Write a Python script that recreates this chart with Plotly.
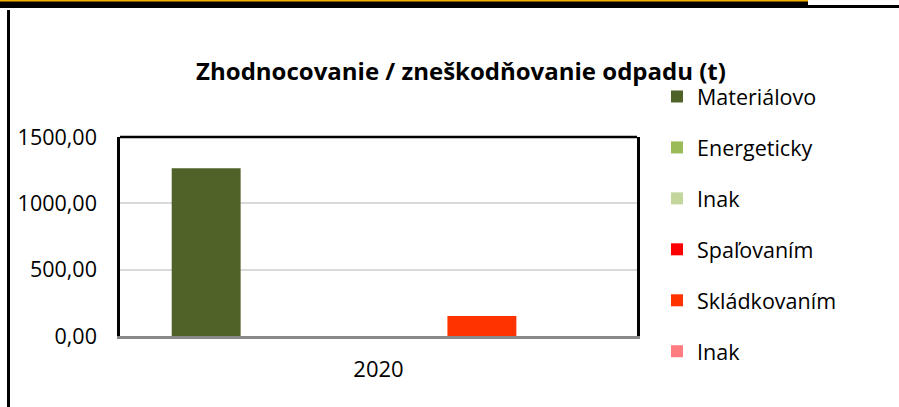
import plotly.graph_objects as go

categories = ["2020"]
series_names = ["Materiálovo", "Energeticky", "Inak", "Spaľovaním", "Skládkovaním", "Inak"]
series_values = [[1265], [0], [0], [0], [150], [0]]
series_colors = ["#4f6228", "#9bbb59", "#c3d69b", "#ff0000", "#ff3300", "#ff7c80"]
y_ticks = [0, 500, 1000, 1500]

W, H = 899, 407
FONT = "Open Sans"

fig = go.Figure()
for i, (name, vals, col) in enumerate(zip(series_names, series_values, series_colors)):
    fig.add_trace(go.Bar(x=categories, y=vals, name=name, marker_color=col,
                         marker_line_width=0, legendgroup=f"g{i}"))

def px_x(x):
    return x / W

def px_y(y):
    return 1 - y / H

shapes = [
    dict(type="line", xref="x domain", yref="y domain", x0=0, x1=1, y0=1, y1=1,
         line=dict(color="black", width=2.5)),
    dict(type="rect", xref="paper", yref="paper", x0=0, x1=px_x(808), y0=px_y(1), y1=px_y(8),
         fillcolor="black", line_width=0),
    dict(type="rect", xref="paper", yref="paper", x0=0, x1=px_x(808), y0=px_y(0), y1=px_y(1.5),
         fillcolor="#f4b000", line_width=0),
    dict(type="rect", xref="paper", yref="paper", x0=px_x(808), x1=1, y0=px_y(5), y1=px_y(8),
         fillcolor="black", line_width=0),
    dict(type="rect", xref="paper", yref="paper", x0=px_x(7), x1=px_x(10), y0=px_y(10), y1=0,
         fillcolor="black", line_width=0),
]

fig.update_layout(
    width=W, height=H,
    margin=dict(l=0, r=0, t=0, b=0, autoexpand=False),
    paper_bgcolor="white", plot_bgcolor="white",
    separators=", ",
    font=dict(family=FONT, size=21, color="black"),
    barmode="group", bargap=0.2, bargroupgap=0,
    title=dict(text="<b>Zhodnocovanie / zneškodňovanie odpadu (t)</b>",
               x=461 / W, xanchor="center", y=px_y(72), yanchor="middle",
               font=dict(family=FONT, size=24, color="black")),
    xaxis=dict(domain=[px_x(120), px_x(637)], showline=True, linecolor="#898989", linewidth=3,
               ticks="", showgrid=False, tickfont=dict(size=22), automargin=False,
               ticklabelstandoff=12),
    yaxis=dict(domain=[px_y(336), px_y(137)], range=[0, 1500], tickvals=y_ticks,
               tickformat=".2f", showline=True, linecolor="black", linewidth=2.5, mirror=True,
               showgrid=True, gridcolor="#d9d9d9", gridwidth=2, zeroline=False,
               ticks="", ticklabelstandoff=16, tickfont=dict(size=21.5), automargin=False),
    legend=dict(x=px_x(657), xanchor="left", y=px_y(76), yanchor="top",
                font=dict(size=21.5), tracegroupgap=20, itemwidth=30,
                bgcolor="rgba(0,0,0,0)"),
    shapes=shapes,
)

fig.write_html("out.html", config={"displayModeBar": False},
               post_script="document.body.style.margin='0';document.body.style.overflow='hidden';")
